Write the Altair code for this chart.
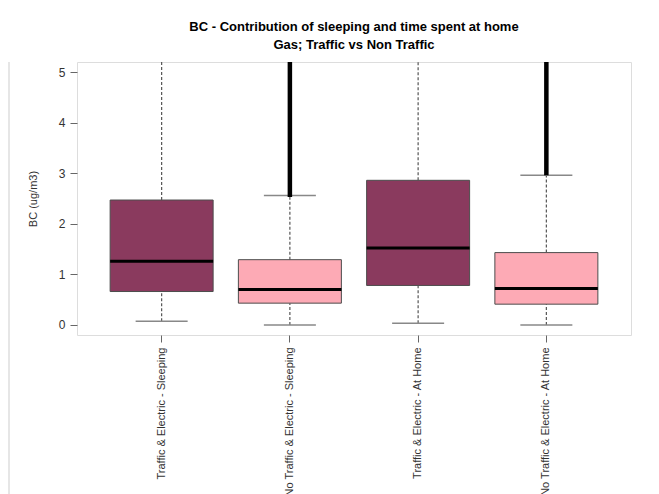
import altair as alt
import pandas as pd

categories = [
    "Traffic & Electric - Sleeping",
    "No Traffic & Electric - Sleeping",
    "Traffic & Electric - At Home",
    "No Traffic & Electric - At Home",
]
group = ["Traffic", "Non Traffic", "Traffic", "Non Traffic"]
whisker_low = [0.07, 0.00, 0.03, 0.00]
q1 = [0.66, 0.43, 0.78, 0.41]
median = [1.26, 0.70, 1.52, 0.72]
q3 = [2.47, 1.29, 2.86, 1.43]
whisker_high = [5.6, 2.56, 5.6, 2.96]
outlier_low = [None, 2.53, None, 2.96]
outlier_high = [None, 5.6, None, 5.6]

df = pd.DataFrame({
    "cat": categories, "group": group, "lo": whisker_low, "q1": q1,
    "med": median, "q3": q3, "hi": whisker_high,
    "olo": outlier_low, "ohi": outlier_high,
})

FONT = "Liberation Sans"
ydom = [-0.2, 5.2]

x = alt.X("cat:N", sort=categories, title=None,
          scale=alt.Scale(paddingInner=0, paddingOuter=0.16),
          axis=alt.Axis(labelAngle=-90, labelFontSize=11, labelColor="#333333",
                        labelFont=FONT, tickColor="#666666", tickSize=7,
                        domain=False, labelPadding=5, labelLimit=300))
yscale = alt.Scale(domain=ydom, nice=False, zero=False)
y_axis = alt.Axis(values=[0, 1, 2, 3, 4, 5], labelFontSize=12, labelColor="#333333",
                  labelFont=FONT, tickColor="#666666", tickSize=7, grid=False,
                  domain=False, labelPadding=5, title="BC (ug/m3)",
                  titleFont=FONT, titleFontSize=11, titleFontWeight="normal",
                  titleColor="#333333", titlePadding=20)

base = alt.Chart(df)

boxes = base.mark_bar(size=103, stroke="#4d4d4d", strokeWidth=1, opacity=1).encode(
    x=x,
    y=alt.Y("q1:Q", scale=yscale, axis=y_axis),
    y2="q3:Q",
    color=alt.Color("group:N", legend=None,
                    scale=alt.Scale(domain=["Traffic", "Non Traffic"],
                                    range=["#8A3A5E", "#FDAAB5"])),
)

whisk_up = base.mark_rule(color="#555555", strokeDash=[3, 2], strokeWidth=1.2, clip=True).encode(
    x=alt.X("cat:N", sort=categories), y="q3:Q", y2="hi:Q")
whisk_dn = base.mark_rule(color="#555555", strokeDash=[3, 2], strokeWidth=1.2, clip=True).encode(
    x=alt.X("cat:N", sort=categories), y="lo:Q", y2="q1:Q")

cap_lo = base.mark_tick(size=52, thickness=1.5, color="#888888", opacity=1, clip=True).encode(
    x=alt.X("cat:N", sort=categories), y="lo:Q")
cap_hi = base.mark_tick(size=52, thickness=1.5, color="#888888", opacity=1, clip=True).encode(
    x=alt.X("cat:N", sort=categories), y="hi:Q")

outl = base.mark_rule(color="black", strokeWidth=4.5, clip=True).transform_filter(
    "datum.olo != null").encode(
    x=alt.X("cat:N", sort=categories), y="olo:Q", y2="ohi:Q")

med = base.mark_tick(size=103, thickness=3, color="black", opacity=1).encode(
    x=alt.X("cat:N", sort=categories), y="med:Q")

border_left = alt.Chart(df).mark_rule(color="#e6e6e6", strokeWidth=2).encode(
    x=alt.value(-68), y=alt.value(0), y2=alt.value(440))

chart = alt.layer(border_left, boxes, whisk_up, whisk_dn, cap_lo, cap_hi, outl, med).properties(
    width=554, height=273,
    title=alt.Title(["BC - Contribution of sleeping and time spent at home",
                     "Gas; Traffic vs Non Traffic"],
                    font=FONT, fontSize=13, fontWeight="bold", color="black",
                    lineHeight=18, offset=9, anchor="middle", frame="group"),
    autosize=alt.AutoSizeParams(type="none"),
    padding={"left": 69, "top": 54, "right": 20, "bottom": 159},
).configure_view(stroke="#808080", strokeWidth=1.5).configure(background="white")

chart.save("out.html", embed_options={"renderer": "svg", "actions": False})
